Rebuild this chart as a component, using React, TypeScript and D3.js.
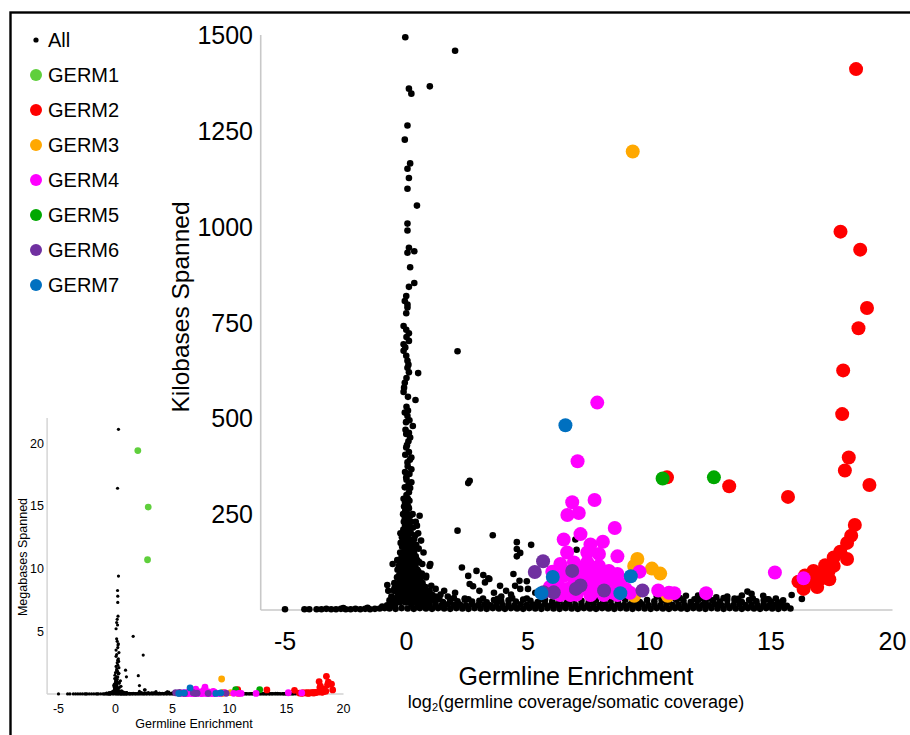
import React from 'react';
import * as d3 from 'd3';

// ---------- DATA (x = log2 germline enrichment, y = kilobases spanned) ----------
const xTicks = [-5, 0, 5, 10, 15, 20];
const mainYTicks = [250, 500, 750, 1000, 1250, 1500];
const insetYTicks = [5, 10, 15, 20];

const legendNames = ['All', 'GERM1', 'GERM2', 'GERM3', 'GERM4', 'GERM5', 'GERM6', 'GERM7'];
const legendColors = ['#000000', '#5fcf3c', '#ff0000', '#ffa800', '#ff00ff', '#00a800', '#7030a0', '#0070c0'];

const spikeTop: [number, number][] = [
  [-0.05, 1494], [2.0, 1459], [0.96, 1366], [0.1, 1360], [0.2, 1347], [0.04, 1264], [-0.07, 1227], [0.15, 1165],
  [0.04, 1151], [0.1, 1127], [0.04, 1099], [0.43, 1055], [0.04, 1008], [0.04, 990], [0.1, 945], [0.04, 932],
  [0.32, 936], [0.15, 894], [0.32, 853], [0.1, 843], [-0.01, 819], [-0.07, 806], [0.04, 797], [0.04, 789],
  [-0.01, 774], [-0.12, 741], [-0.01, 731], [0.1, 722], [0.0, 712], [0.1, 702], [-0.12, 693], [-0.05, 685],
  [-0.12, 676], [-0.01, 663], [0.04, 650], [0.08, 640], [0.04, 632], [0.1, 620], [0.48, 618], [0.0, 605],
  [-0.07, 593], [-0.1, 580], [-0.12, 569], [0.06, 556], [0.37, 548], [2.1, 675], [0.0, 530], [-0.07, 515],
  [0.04, 506], [0.12, 495], [0.26, 480], [-0.04, 470], [-0.01, 459], [0.15, 450], [0.08, 440], [-0.01, 424],
  [0.1, 412], [-0.05, 405], [0.2, 398], [0.04, 385], [0.05, 375], [0.2, 367], [0.12, 355], [-0.01, 346],
  [0.0, 340], [0.2, 333], [2.6, 337], [2.54, 331], [-0.07, 320], [0.15, 318], [0.1, 307],
  [0.06, 520], [-0.02, 490], [0.1, 462], [0.02, 430], [0.14, 392], [-0.06, 360], [0.08, 326],
];

const spikeDense: [number, number][] = [
  [-0.12, 290], [-0.1, 270], [-0.14, 250], [-0.11, 230], [-0.13, 210], [-0.1, 190], [-0.12, 170], [-0.14, 150],
  [-0.11, 130], [-0.12, 110], [-0.1, 90], [-0.13, 70], [-0.12, 50], [-0.11, 30],
  [-0.06, 280], [-0.05, 260], [-0.07, 240], [-0.06, 220], [-0.05, 200], [-0.07, 180], [-0.06, 160], [-0.05, 140],
  [-0.06, 120], [-0.07, 100], [-0.05, 80], [-0.06, 60], [-0.06, 40], [-0.05, 20],
  [0.0, 300], [0.02, 280], [-0.02, 260], [0.01, 240], [0.0, 220], [-0.01, 200], [0.02, 180], [0.0, 160],
  [0.01, 140], [-0.02, 120], [0.0, 100], [0.02, 80], [0.0, 60], [-0.01, 40], [0.01, 20],
  [0.06, 290], [0.07, 270], [0.05, 250], [0.06, 230], [0.07, 210], [0.05, 190], [0.06, 170], [0.07, 150],
  [0.05, 130], [0.06, 110], [0.07, 90], [0.05, 70], [0.06, 50], [0.07, 30],
  [0.12, 285], [0.1, 265], [0.14, 245], [0.11, 225], [0.13, 205], [0.12, 185], [0.1, 165], [0.13, 145],
  [0.12, 125], [0.11, 105], [0.14, 85], [0.12, 65], [0.1, 45], [0.13, 25],
  [0.19, 230], [0.18, 200], [0.2, 170], [0.19, 150], [0.18, 130], [0.2, 110], [0.19, 90], [0.18, 70], [0.2, 50], [0.19, 30],
  [-0.19, 190], [-0.18, 165], [-0.2, 140], [-0.19, 115], [-0.18, 90], [-0.2, 70], [-0.19, 50], [-0.18, 30],
  [0.25, 250], [0.27, 215], [0.24, 180], [0.26, 160], [0.25, 140], [0.23, 120], [0.26, 100], [0.25, 80],
  [0.27, 60], [0.24, 40], [0.25, 20],
  [-0.25, 200], [-0.24, 175], [-0.26, 150], [-0.25, 125], [-0.23, 100], [-0.26, 80], [-0.25, 60], [-0.24, 40], [-0.26, 20],
  [0.32, 185], [0.31, 150], [0.33, 128], [0.32, 105], [0.31, 78], [0.33, 55], [0.32, 32],
  [0.38, 230], [0.36, 195], [0.4, 170], [0.38, 140], [0.37, 115], [0.39, 90], [0.38, 65], [0.36, 45], [0.4, 25],
  [-0.32, 115], [-0.31, 90], [-0.33, 70], [-0.32, 50], [-0.31, 30],
  [-0.38, 130], [-0.37, 105], [-0.39, 85], [-0.38, 60], [-0.36, 40], [-0.4, 20],
  [0.44, 130], [0.45, 105], [0.43, 82], [0.44, 60], [0.45, 40], [0.44, 22],
  [0.5, 160], [0.52, 125], [0.49, 100], [0.51, 75], [0.5, 55], [0.52, 35], [0.48, 15],
  [-0.45, 50], [-0.44, 30], [-0.46, 15],
  [0.58, 85], [0.57, 62], [0.59, 42], [0.58, 25],
  [-0.5, 70], [-0.52, 50], [-0.49, 30], [-0.51, 12],
  [0.65, 120], [0.63, 95], [0.66, 70], [0.64, 45], [0.65, 25],
  [0.72, 55], [0.73, 35], [0.71, 18],
  [0.8, 85], [0.78, 60], [0.82, 35], [0.8, 18],
  [0.88, 45], [0.87, 25], [-0.58, 25], [-0.57, 10],
  [-0.62, 35], [-0.64, 15], [0.95, 50], [0.97, 30], [0.94, 12], [1.1, 25], [1.05, 40], [1.2, 35], [1.3, 28],
  [0.54, 246], [0.43, 220], [0.48, 200], [0.6, 181], [0.7, 150], [-0.57, 120], [0.95, 115], [0.98, 120],
  [-0.79, 65], [0.81, 89], [1.02, 63],
];

const scattered: [number, number][] = [
  [2.1, 207], [2.28, 111], [2.88, 102], [2.54, 89], [2.6, 68], [2.74, 62], [3.16, 91], [3.37, 83], [3.55, 195],
  [3.85, 63], [4.4, 94], [4.54, 177], [5.13, 170], [4.54, 159], [4.54, 140], [4.68, 149], [4.65, 76], [4.95, 75],
  [4.47, 63], [4.68, 55], [3.41, 81], [3.23, 72], [1.4, 40], [1.7, 35], [2.0, 45], [1.2, 55], [3.0, 50],
  [3.6, 45], [4.1, 50], [5.0, 55], [5.3, 45], [2.4, 30], [3.9, 35], [4.3, 40], [1.55, 50], [6.95, 184], [7.0, 157],
  [14.03, 48], [14.2, 42], [14.68, 37], [15.85, 39], [16.27, 29], [15.65, 11], [12.75, 33], [11.5, 37],
  [13.2, 35], [13.8, 38], [12.2, 30], [11.0, 32], [15.2, 30], [14.9, 28], [15.5, 25], [10.3, 35], [13.5, 30], [12.0, 38],
];

const floorLeft: [number, number][] = [
  [-5.0, 2], [-4.2, 2], [-4.0, 2], [-3.7, 2], [-3.5, 2], [-3.3, 3], [-3.1, 2], [-2.9, 2], [-2.7, 3], [-2.5, 2],
  [-2.3, 2], [-2.1, 3], [-1.9, 2], [-1.7, 3], [-1.5, 2], [-1.3, 3], [-1.1, 4], [-0.9, 5], [-2.6, 5], [-1.6, 6],
  [-1.0, 9], [-0.8, 12], [-0.75, 50], [-0.5, 56], [-0.7, 25],
];

const floorRowA: [number, number][] = [
  [-0.7, 4], [-0.45, 3], [-0.2, 5], [0.05, 4], [0.3, 3], [0.55, 5], [0.8, 4], [1.05, 3], [1.3, 5], [1.55, 4],
  [1.8, 3], [2.05, 5], [2.3, 4], [2.55, 3], [2.8, 5], [3.05, 4], [3.3, 3], [3.55, 5], [3.8, 4], [4.05, 3],
  [4.3, 5], [4.55, 4], [4.8, 3], [5.05, 5], [5.3, 4], [5.55, 3], [5.8, 5], [6.05, 4], [6.3, 3], [6.55, 5],
  [6.8, 4], [7.05, 3], [7.3, 5], [7.55, 4], [7.8, 3], [8.05, 5], [8.3, 4], [8.55, 3], [8.8, 5], [9.05, 4],
  [9.3, 3], [9.55, 5], [9.8, 4], [10.05, 3], [10.3, 5], [10.55, 4], [10.8, 3], [11.05, 5], [11.3, 4], [11.55, 3],
  [11.8, 5], [12.05, 4], [12.3, 3], [12.55, 5], [12.8, 4], [13.05, 3], [13.3, 5], [13.55, 4], [13.8, 3], [14.05, 5],
  [14.3, 4], [14.55, 3], [14.8, 5], [15.05, 4], [15.3, 3], [15.55, 5], [15.8, 4],
];

const floorRowB: [number, number][] = [
  [0.2, 14], [0.45, 12], [0.7, 15], [0.95, 13], [1.2, 14], [1.45, 12], [1.7, 15], [1.95, 13], [2.2, 14], [2.45, 12],
  [2.7, 15], [2.95, 13], [3.2, 14], [3.45, 12], [3.7, 15], [3.95, 13], [4.2, 14], [4.45, 12], [4.7, 15], [4.95, 13],
  [5.2, 14], [5.45, 12], [5.7, 15], [5.95, 13], [6.2, 14], [6.45, 12], [6.7, 15], [6.95, 13], [7.2, 14], [7.45, 12],
  [7.7, 15], [7.95, 13], [8.2, 14], [8.45, 12], [8.7, 15], [8.95, 13], [9.2, 14], [9.45, 12], [9.7, 15], [9.95, 13],
  [10.2, 14], [10.45, 12], [10.7, 15], [10.95, 13], [11.2, 14], [11.45, 12], [11.7, 15], [11.95, 13], [12.2, 14], [12.45, 12],
  [12.7, 15], [12.95, 13], [13.2, 14], [13.45, 12], [13.7, 15], [13.95, 13], [14.2, 14], [14.45, 12], [14.7, 15], [14.95, 13],
  [15.2, 14], [15.45, 12],
];

const floorRowC: [number, number][] = [
  [0.6, 24], [0.9, 22], [1.2, 26], [1.5, 21], [1.8, 25], [2.1, 23], [2.4, 27], [2.7, 22], [3.0, 24], [3.3, 20],
  [3.6, 26], [3.9, 23], [4.2, 25], [4.5, 22], [4.8, 27], [5.1, 24], [5.4, 21], [5.7, 26], [6.0, 23], [6.3, 25],
  [6.6, 22], [6.9, 27], [7.2, 24], [7.5, 21], [7.8, 26], [8.1, 23], [8.4, 25], [8.7, 22], [9.0, 27], [9.3, 24],
  [9.6, 21], [9.9, 26], [10.2, 23], [10.5, 25], [10.8, 22], [11.1, 27], [11.4, 24], [11.7, 21], [12.0, 26], [12.3, 23],
  [12.6, 25], [12.9, 22], [13.2, 27], [13.5, 24], [13.8, 21], [14.1, 26], [14.4, 23], [14.7, 25], [15.0, 22], [15.3, 20],
  [0.75, 30], [1.35, 29], [1.95, 31], [2.55, 28], [3.15, 30], [3.75, 29], [4.35, 31], [4.95, 30], [5.55, 28],
  [10.65, 29], [11.25, 31], [11.85, 28], [12.45, 30], [13.05, 31], [13.65, 29], [14.25, 30], [14.85, 28],
];

// points above 1500 kb (only visible in the megabase inset)
const bigAll: [number, number][] = [
  [0.26, 21100], [0.18, 16400], [0.26, 9400], [0.18, 8250], [0.2, 7800], [0.2, 7300], [0.22, 6200], [0.15, 5950],
  [0.1, 5700], [0.18, 5500], [0.05, 5200], [1.55, 4600], [0.1, 4400], [0.15, 4200], [0.25, 4000], [0.2, 3700],
  [0.05, 3500], [0.3, 3300], [2.43, 3100], [0.05, 3000], [0.25, 2800], [0.2, 2700], [0.15, 2500], [0.2, 2300],
  [0.3, 2100], [0.12, 2000], [0.1, 1900], [0.88, 1900], [0.0, 1700], [0.25, 1600],
  [0.22, 3900], [0.1, 3150], [0.28, 2600], [0.05, 2200], [0.18, 1800], [0.3, 1650],
];

const germ1: [number, number][] = [[1.96, 19400], [2.87, 14900], [2.81, 10700]];
const germ2: [number, number][] = [
  [18.5, 1411], [17.86, 987], [18.67, 940], [18.95, 788], [18.6, 735], [17.97, 625], [17.93, 511], [18.2, 398],
  [18.04, 364], [19.05, 326], [15.7, 295], [13.28, 323], [10.72, 346], [18.45, 222], [18.3, 194], [18.13, 175],
  [17.85, 152], [18.13, 133], [17.58, 137], [17.23, 117], [17.58, 115], [16.75, 102], [17.23, 94], [16.75, 72],
  [16.13, 74], [16.34, 55], [16.96, 89], [17.37, 102], [17.0, 80], [16.5, 85], [16.9, 60], [17.4, 80], [16.4, 90],
];
const germ3: [number, number][] = [
  [9.31, 1196], [9.5, 133], [9.37, 115], [10.1, 108], [10.44, 95], [9.37, 37], [10.75, 37],
];
const germ4: [number, number][] = [
  [7.85, 541], [7.04, 388], [6.82, 281], [7.74, 287], [6.62, 248], [7.09, 253], [8.57, 214], [7.16, 198],
  [6.47, 184], [7.57, 171], [8.08, 178], [6.61, 150], [7.44, 150], [7.92, 146], [8.68, 140], [6.33, 120],
  [6.89, 124], [7.44, 124], [7.92, 115], [8.33, 102], [8.68, 94], [6.47, 89], [7.16, 85], [7.57, 81],
  [8.12, 81], [9.59, 100], [6.61, 55], [7.16, 55], [7.44, 55], [7.85, 55], [8.4, 55], [9.02, 55], [6.33, 39],
  [6.75, 39], [7.57, 39], [8.12, 39], [8.68, 39], [10.36, 51], [10.8, 45], [12.33, 44], [15.16, 98], [16.34, 83],
  [11.02, 44], [6.2, 70], [6.9, 70], [7.3, 100], [7.7, 100], [8.0, 65], [8.8, 70], [6.0, 100], [7.0, 40],
  [7.2, 110], [8.5, 45], [9.2, 45], [6.1, 45], [7.9, 90], [6.7, 100], [8.3, 75], [5.9, 60],
];
const germ5: [number, number][] = [[10.54, 343], [12.65, 346]];
const germ6: [number, number][] = [
  [5.62, 127], [5.28, 99], [6.82, 102], [7.16, 64], [6.97, 55], [8.13, 51], [9.71, 51], [6.06, 46], [5.64, 46],
];
const germ7: [number, number][] = [[6.54, 482], [6.02, 86], [5.55, 44], [9.23, 88], [8.8, 44]];

const allBlack = [...floorLeft, ...floorRowA, ...floorRowB, ...floorRowC, ...scattered, ...spikeDense, ...spikeTop];
const colored: { color: string; pts: [number, number][] }[] = [
  { color: legendColors[1], pts: germ1 },
  { color: legendColors[3], pts: germ3 },
  { color: legendColors[2], pts: germ2 },
  { color: legendColors[5], pts: germ5 },
  { color: legendColors[4], pts: germ4 },
  { color: legendColors[6], pts: germ6 },
  { color: legendColors[7], pts: germ7 },
];

const FONT = '"Liberation Sans", Arial, Helvetica, sans-serif';

export default function App() {
  const xMain = d3.scaleLinear().domain([-6, 20]).range([260.7, 892.5]);
  const yMain = d3.scaleLinear().domain([0, 1500]).range([610, 35]);
  const xIn = d3.scaleLinear().domain([-6, 20]).range([47.1, 343.5]);
  const yIn = d3.scaleLinear().domain([0, 22]).range([694, 418]);

  const inMain = (p: [number, number]) => p[1] <= 1500;

  return (
    <svg width={910} height={735} style={{ position: 'absolute', left: 0, top: 0, background: '#fff' }}
      fontFamily={FONT}>
      <rect x={0} y={0} width={910} height={735} fill="#fff" />
      <rect x={10.5} y={12.5} width={920} height={740} fill="none" stroke="#000" strokeWidth={2.4} />

      {/* legend */}
      {legendNames.map((n, i) => (
        <g key={n}>
          <circle cx={36} cy={40 + i * 35} r={i === 0 ? 2.6 : 6} fill={legendColors[i]} />
          <text x={48} y={40 + i * 35 + 7.3} fontSize={20} fill="#000">{n}</text>
        </g>
      ))}

      {/* main axes */}
      <line x1={xMain(-6)} x2={xMain(20)} y1={yMain(0)} y2={yMain(0)} stroke="#c8c8c8" strokeWidth={1.6} />
      <line x1={xMain(-6)} x2={xMain(-6)} y1={yMain(0)} y2={yMain(1500)} stroke="#c8c8c8" strokeWidth={1.6} />
      {mainYTicks.map(t => (
        <text key={t} x={253} y={yMain(t) + 9} textAnchor="end" fontSize={25} fill="#000">{t}</text>
      ))}
      {xTicks.map(t => (
        <text key={t} x={xMain(t)} y={641 + 9} textAnchor="middle" fontSize={25} fill="#000">{t}</text>
      ))}
      <text x={576} y={676 + 9} textAnchor="middle" fontSize={25} fill="#000">Germline Enrichment</text>
      <text x={576} y={701 + 6.5} textAnchor="middle" fontSize={18} fill="#000">
        log<tspan fontSize={11} dy={3}>2</tspan><tspan dy={-3}>(germline coverage/somatic coverage)</tspan>
      </text>
      <text transform={`translate(${180 + 9},307) rotate(-90)`} textAnchor="middle" fontSize={24.5} fill="#000">
        Kilobases Spanned
      </text>

      {/* main points */}
      <g>
        {allBlack.filter(inMain).map((p, i) => (
          <circle key={'b' + i} cx={xMain(p[0])} cy={yMain(p[1])} r={3.3} fill="#000" />
        ))}
        {colored.map((g, gi) => g.pts.filter(inMain).map((p, i) => (
          <circle key={gi + '-' + i} cx={xMain(p[0])} cy={yMain(p[1])} r={7} fill={g.color} />
        )))}
      </g>

      {/* inset axes */}
      <line x1={xIn(-6)} x2={xIn(20)} y1={yIn(0)} y2={yIn(0)} stroke="#d2d2d2" strokeWidth={1.4} />
      <line x1={xIn(-6)} x2={xIn(-6)} y1={yIn(0)} y2={yIn(22)} stroke="#d2d2d2" strokeWidth={1.4} />
      {insetYTicks.map(t => (
        <text key={t} x={44} y={yIn(t) + 4.5} textAnchor="end" fontSize={12.5} fill="#000">{t}</text>
      ))}
      {xTicks.map(t => (
        <text key={t} x={xIn(t)} y={708 + 4.5} textAnchor="middle" fontSize={12.5} fill="#000">{t}</text>
      ))}
      <text x={194} y={723 + 4.5} textAnchor="middle" fontSize={12.5} fill="#000">Germline Enrichment</text>
      <text transform={`translate(${22 + 4.5},557) rotate(-90)`} textAnchor="middle" fontSize={12.5} fill="#000">
        Megabases Spanned
      </text>

      {/* inset points (megabases) */}
      <g>
        {[...allBlack, ...bigAll].map((p, i) => (
          <circle key={'ib' + i} cx={xIn(p[0])} cy={yIn(p[1] / 1000)} r={1.6} fill="#000" />
        ))}
        {colored.map((g, gi) => g.pts.map((p, i) => (
          <circle key={'i' + gi + '-' + i} cx={xIn(p[0])} cy={yIn(p[1] / 1000)} r={3.4} fill={g.color} />
        )))}
      </g>
    </svg>
  );
}
